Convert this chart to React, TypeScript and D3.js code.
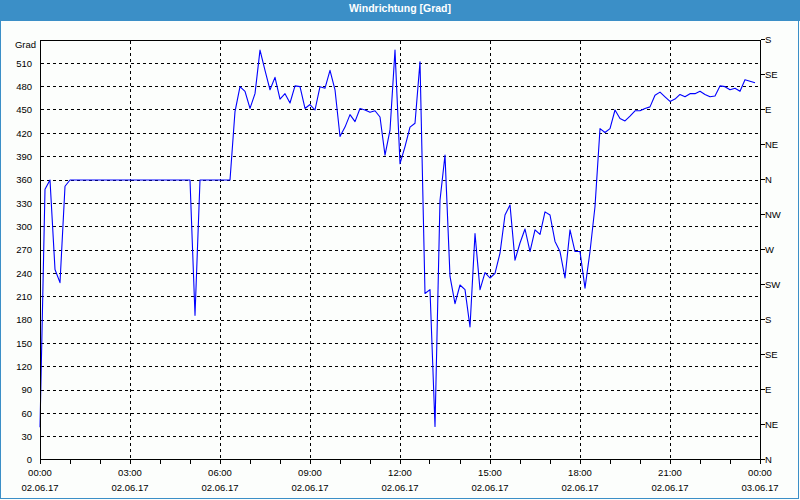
import React from "react";
import * as d3 from "d3";

const title = "Windrichtung [Grad]";
const unitLabel = "Grad";
const startTime = new Date(2017, 5, 2, 0, 0);
const endTime = new Date(2017, 5, 3, 0, 0);
const sampleMinutes = 10;

// wind direction values, one every 10 minutes starting 02.06.17 00:00
const directionValues: number[] = [
  42, 348, 360, 245, 228, 352, 360, 360, 360, 360, 360, 360,
  360, 360, 360, 360, 360, 360, 360, 360, 360, 360, 360, 360,
  360, 360, 360, 360, 360, 360, 360, 186, 360, 360, 360, 360,
  360, 360, 360, 448, 480, 474, 452, 471, 527, 501, 476, 492,
  464, 471, 459, 481, 480, 452, 457, 450, 480, 478, 501, 476,
  416, 428, 444, 435, 452, 450, 447, 449, 441, 392, 424, 527,
  381, 403, 428, 433, 512, 214, 219, 43, 334, 392, 236, 201,
  225, 219, 171, 291, 219, 241, 234, 240, 266, 315, 328, 257,
  279, 297, 268, 296, 290, 319, 315, 281, 268, 234, 296, 268,
  268, 221, 268, 326, 426, 421, 426, 450, 439, 436, 442, 449,
  449, 452, 454, 469, 473, 467, 461, 464, 470, 467, 471, 471,
  474, 470, 467, 468, 481, 480, 476, 478, 474, 489, 487, 485,
];

const yTicks: number[] = [0, 30, 60, 90, 120, 150, 180, 210, 240, 270, 300, 330, 360, 390, 420, 450, 480, 510];
const compassTicks: number[] = [0, 45, 90, 135, 180, 225, 270, 315, 360, 405, 450, 495, 540];
const compassLabels: string[] = ["N", "NE", "E", "SE", "S", "SW", "W", "NW", "N", "NE", "E", "SE", "S"];
const majorHours: number[] = [0, 3, 6, 9, 12, 15, 18, 21, 24];

const W = 800;
const H = 500;
const M = { left: 40, right: 760, top: 40, bottom: 460 };
const FONT = "'Liberation Sans', Arial, sans-serif";
const FRAME = "#3b8fc7";

export default function App() {
  const x = d3.scaleTime().domain([startTime, endTime]).range([M.left, M.right]);
  const y = d3.scaleLinear().domain([0, 540]).range([M.bottom, M.top]);
  const crisp = (v: number) => Math.floor(v) + 0.5;

  const data = directionValues.map((v, i) => ({
    t: d3.timeMinute.offset(startTime, i * sampleMinutes),
    v,
  }));
  const line = d3
    .line<{ t: Date; v: number }>()
    .x((d) => x(d.t))
    .y((d) => y(d.v));

  const hourTicks = d3.timeHour.range(startTime, d3.timeHour.offset(endTime, 1));
  const fmtTime = d3.timeFormat("%H:%M");
  const fmtDate = d3.timeFormat("%d.%m.%y");
  const majorDates = majorHours.map((h) => d3.timeHour.offset(startTime, h));

  const xl = crisp(M.left);
  const xr = crisp(M.right);
  const yt = crisp(M.top);
  const yb = crisp(M.bottom - 0.5);

  return (
    <svg
      width={W}
      height={H}
      style={{ position: "fixed", left: 0, top: 0, display: "block" }}
      fontFamily={FONT}
    >
      <rect x={0} y={0} width={W} height={H} fill="#fcfefc" />
      <rect x={0} y={0} width={W} height={21} fill={FRAME} />
      <line x1={0.5} x2={0.5} y1={21} y2={H} stroke={FRAME} />
      <line x1={798.5} x2={798.5} y1={21} y2={H} stroke={FRAME} />
      <line x1={0} x2={W} y1={498.5} y2={498.5} stroke={FRAME} />
      <rect x={799} y={21} width={1} height={H - 21} fill="#fcfefc" />
      <rect x={0} y={499} width={W} height={1} fill="#fcfefc" />
      <text
        x={W / 2}
        y={12}
        textAnchor="middle"
        fill="#ffffff"
        fontSize={10.5}
        fontWeight="bold"
      >
        {title}
      </text>

      {/* horizontal grid */}
      {yTicks.filter((v) => v > 0).map((v) => (
        <line
          key={"hg" + v}
          x1={xl}
          x2={xr}
          y1={crisp(y(v))}
          y2={crisp(y(v))}
          stroke="#000"
          strokeDasharray="3,3"
          shapeRendering="crispEdges"
        />
      ))}
      {/* vertical grid */}
      {majorDates.slice(1, -1).map((d, i) => (
        <line
          key={"vg" + i}
          x1={crisp(x(d))}
          x2={crisp(x(d))}
          y1={yt}
          y2={yb}
          stroke="#000"
          strokeDasharray="3,3"
          shapeRendering="crispEdges"
        />
      ))}

      {/* data line */}
      <path d={line(data) || ""} fill="none" stroke="#0000ff" strokeWidth={1.1} strokeLinejoin="round" />

      {/* frame */}
      <rect
        x={xl}
        y={yt}
        width={xr - xl}
        height={yb - yt}
        fill="none"
        stroke="#000"
        shapeRendering="crispEdges"
      />

      {/* bottom hourly ticks */}
      {hourTicks.map((d, i) => (
        <line
          key={"ht" + i}
          x1={crisp(x(d))}
          x2={crisp(x(d))}
          y1={yb}
          y2={yb + 4}
          stroke="#000"
          shapeRendering="crispEdges"
        />
      ))}
      {/* right compass ticks */}
      {compassTicks.map((v) => (
        <line
          key={"ct" + v}
          x1={xr}
          x2={xr + 4}
          y1={crisp(y(v) - 0.5)}
          y2={crisp(y(v) - 0.5)}
          stroke="#000"
          shapeRendering="crispEdges"
        />
      ))}

      {/* left labels */}
      {yTicks.map((v) => (
        <text key={"yl" + v} x={32} y={y(v)} dy="0.35em" textAnchor="end" fontSize={9.5} fill="#000">
          {v}
        </text>
      ))}
      <text x={36} y={45} dy="0.35em" textAnchor="end" fontSize={9.5} fill="#000">
        {unitLabel}
      </text>

      {/* right labels */}
      {compassTicks.map((v, i) => (
        <text key={"cl" + v} x={765} y={y(v)} dy="0.35em" textAnchor="start" fontSize={9.5} fill="#000">
          {compassLabels[i]}
        </text>
      ))}

      {/* bottom labels */}
      {majorDates.map((d, i) => (
        <g key={"bl" + i}>
          <text x={x(d)} y={473} dy="0.35em" textAnchor="middle" fontSize={9.5} fill="#000">
            {fmtTime(d)}
          </text>
          <text x={x(d)} y={488} dy="0.35em" textAnchor="middle" fontSize={9.5} fill="#000">
            {fmtDate(d)}
          </text>
        </g>
      ))}
    </svg>
  );
}
